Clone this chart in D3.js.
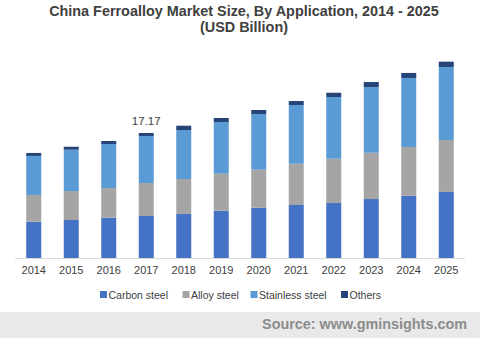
<!DOCTYPE html>
<html>
<head>
<meta charset="utf-8">
<script src="https://cdn.jsdelivr.net/npm/d3@7"></script>
<style>
  html, body { margin: 0; padding: 0; background: #ffffff; }
  svg { display: block; font-family: "Liberation Sans", Arial, sans-serif; }
</style>
</head>
<body>
<svg id="chart" width="480" height="338"></svg>
<script>
// Market size by application (USD Billion)
const years = ["2014","2015","2016","2017","2018","2019","2020","2021","2022","2023","2024","2025"];
const carbonSteel    = [4.99, 5.22, 5.54, 5.77, 6.04, 6.50, 6.91, 7.28, 7.55, 8.10, 8.56, 9.07];
const alloySteel     = [3.67, 3.98, 4.08, 4.53, 4.81, 5.08, 5.22, 5.67, 6.09, 6.36, 6.69, 7.14];
const stainlessSteel = [5.36, 5.67, 6.04, 6.46, 6.73, 7.10, 7.65, 8.06, 8.47, 9.02, 9.48, 10.03];
const others         = [0.41, 0.41, 0.41, 0.41, 0.59, 0.55, 0.55, 0.55, 0.59, 0.69, 0.69, 0.73];
const seriesNames  = ["Carbon steel", "Alloy steel", "Stainless steel", "Others"];
const seriesColors = ["#4472C4", "#A5A5A5", "#5B9BD5", "#264478"];
const labelledYear = "2017";
const labelledValue = 17.17;

const svg = d3.select("#chart");
const W = 480, H = 338;

// Footer band with source note
svg.append("rect").attr("x", 0).attr("y", 312).attr("width", W).attr("height", H - 312)
  .attr("fill", "#e9e9e9");
svg.append("text").attr("x", 467).attr("y", 328.5).attr("text-anchor", "end")
  .attr("font-size", 14.4).attr("font-weight", "bold").attr("fill", "#8c8c8c")
  .text("Source: www.gminsights.com");

// Title
const title = svg.append("text").attr("text-anchor", "middle")
  .attr("font-size", 14.4).attr("font-weight", "bold").attr("fill", "#404040");
title.append("tspan").attr("x", 244).attr("y", 15.5)
  .text("China Ferroalloy Market Size, By Application, 2014 - 2025");
title.append("tspan").attr("x", 244).attr("y", 31.5).text("(USD Billion)");

// Stack the series
const rows = years.map((y, i) => ({
  year: y,
  "Carbon steel": carbonSteel[i],
  "Alloy steel": alloySteel[i],
  "Stainless steel": stainlessSteel[i],
  "Others": others[i]
}));
const stacked = d3.stack().keys(seriesNames)(rows);

const x = d3.scaleBand().domain(years).range([15, 465]).paddingInner(0.6).paddingOuter(0.3);
const y = d3.scaleLinear().domain([0, labelledValue]).range([258, 133]);

const color = d3.scaleOrdinal().domain(seriesNames).range(seriesColors);

svg.append("g").selectAll("g").data(stacked).join("g")
  .attr("fill", d => color(d.key))
  .selectAll("rect").data(d => d).join("rect")
  .attr("x", d => x(d.data.year))
  .attr("width", x.bandwidth())
  .attr("y", d => y(d[1]))
  .attr("height", d => y(d[0]) - y(d[1]));

// Category axis
const xAxis = svg.append("g").attr("transform", "translate(0,258)")
  .call(d3.axisBottom(x).tickSize(0).tickPadding(8));
xAxis.select(".domain").attr("stroke", "#d9d9d9").attr("d", "M15,0.5H465");
xAxis.selectAll("text").attr("font-size", 11).attr("fill", "#404040")
  .attr("font-family", "Liberation Sans, Arial, sans-serif");

// Total label above the highlighted year
const iLab = years.indexOf(labelledYear);
const totalLab = carbonSteel[iLab] + alloySteel[iLab] + stainlessSteel[iLab] + others[iLab];
svg.append("text")
  .attr("x", x(labelledYear) + x.bandwidth() / 2)
  .attr("y", y(totalLab) - 8)
  .attr("text-anchor", "middle").attr("font-size", 11.5).attr("fill", "#404040")
  .text(labelledValue.toFixed(2));

// Legend
const legendX = [100, 182.5, 250.5, 341];
const legend = svg.append("g").selectAll("g").data(seriesNames).join("g")
  .attr("transform", (d, i) => `translate(${legendX[i]},291)`);
legend.append("rect").attr("width", 7).attr("height", 7).attr("fill", d => color(d));
legend.append("text").attr("x", 8.5).attr("y", 7.5).attr("font-size", 10.5)
  .attr("fill", "#404040").text(d => d);
</script>
</body>
</html>
